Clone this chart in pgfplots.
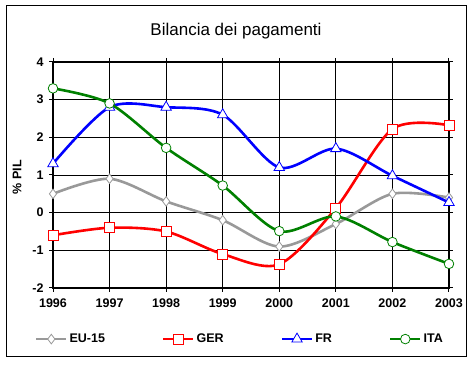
\documentclass[border=0pt]{standalone}
\usepackage{fontspec}
\setmainfont{Liberation Sans}
\usepackage{pgfplots}
\pgfplotsset{compat=1.18}
\definecolor{cgray}{RGB}{153,153,153}
\definecolor{cred}{RGB}{255,0,0}
\definecolor{cblue}{RGB}{0,0,255}
\definecolor{cgreen}{RGB}{0,128,0}
\begin{document}
\begin{tikzpicture}[x=1pt,y=1pt]
\path (0,0) rectangle (473,366);
\draw[line width=1pt] (6,9) rectangle (466,360);
\node[font=\fontsize{17}{20}\selectfont] at (236,335) {Bilancia dei pagamenti};
\node[font=\fontsize{12.5}{14}\selectfont\bfseries, rotate=90] at (17,189) {\% PIL};
\begin{axis}[
  at={(53pt,78pt)}, anchor=south west,
  scale only axis, width=396pt, height=226pt,
  xmin=1996, xmax=2003, ymin=-2, ymax=4,
  xtick={1996,...,2003},
  xticklabels={1996,1997,1998,1999,2000,2001,2002,2003},
  ytick={-2,...,4},
  yticklabels={-2,-1,0,1,2,3,4},
  tick align=outside, major tick length=4pt,
  tick style={black, line width=1pt},
  grid=major, grid style={black, line width=0.9pt},
  axis line style={line width=2.6pt},
  ticklabel style={font=\fontsize{12.5}{14}\selectfont\bfseries},
  xticklabel style={yshift=-3pt},
  yticklabel style={xshift=-2pt},
  clip=false,
  legend columns=4,
  legend style={at={(0.472,-0.226)}, anchor=center, draw=none, fill=none,
    font=\fontsize{12.5}{14}\selectfont\bfseries,
    /tikz/every even column/.append style={column sep=55pt}},
  legend cell align=left,
  legend image code/.code={
    \draw[#1, mark repeat=2, mark phase=2] plot coordinates {(0pt,0pt) (15pt,0pt) (30pt,0pt)};},
  every axis plot/.append style={smooth, tension=0.5, line width=2.6pt},
]
\addplot[cgray, mark=diamond*, mark size=4.8pt, mark options={fill=white, line width=0.8pt, draw=cgray, solid}]
  coordinates {(1996,0.5) (1997,0.9) (1998,0.3) (1999,-0.2) (2000,-0.9) (2001,-0.3) (2002,0.5) (2003,0.4)};
\addlegendentry{EU-15}
\addplot[cred, mark=square*, mark size=5pt, mark options={fill=white, line width=0.8pt, draw=cred, solid}]
  coordinates {(1996,-0.6) (1997,-0.4) (1998,-0.5) (1999,-1.1) (2000,-1.37) (2001,0.12) (2002,2.22) (2003,2.32)};
\addlegendentry{GER}
\addplot[cblue, mark=triangle*, mark size=6pt, mark options={fill=white, line width=0.8pt, draw=cblue, solid}]
  coordinates {(1996,1.3) (1997,2.8) (1998,2.8) (1999,2.6) (2000,1.2) (2001,1.7) (2002,0.98) (2003,0.27)};
\addlegendentry{FR}
\addplot[cgreen, mark=*, mark size=4.8pt, mark options={fill=white, line width=0.8pt, draw=cgreen, solid}]
  coordinates {(1996,3.3) (1997,2.9) (1998,1.72) (1999,0.72) (2000,-0.49) (2001,-0.1) (2002,-0.78) (2003,-1.36)};
\addlegendentry{ITA}
\end{axis}
\end{tikzpicture}
\end{document}
